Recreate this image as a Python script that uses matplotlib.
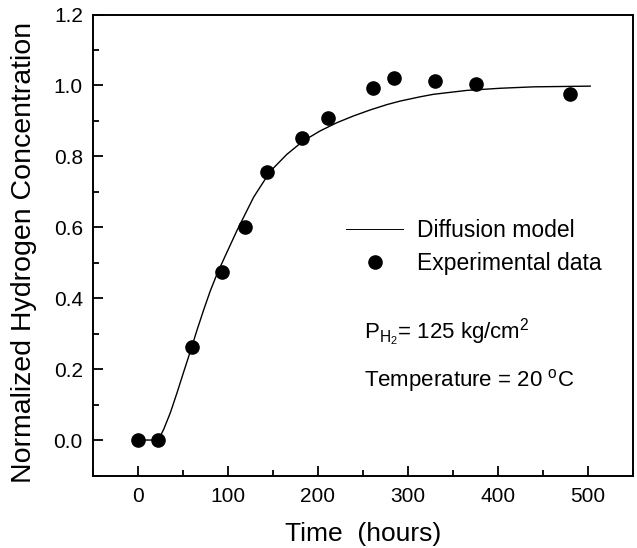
import matplotlib
matplotlib.use("Agg")
import matplotlib.pyplot as plt
from matplotlib.ticker import MultipleLocator

# Experimental data
exp_time = [0, 23, 60, 94, 119, 144, 183, 211, 261, 285, 330, 376, 480]
exp_conc = [0.0, 0.0, 0.262, 0.474, 0.600, 0.757, 0.851, 0.907, 0.993, 1.021, 1.012, 1.003, 0.975]

# Diffusion model curve
model_time = [0, 23, 29, 36.4, 43.8, 51.2, 58.6, 66, 73.4, 80.8, 88.2, 97.5, 110.4,
              128.9, 147.4, 165.9, 184.3, 202.9, 221.4, 239.8, 258.4, 276.9, 291.7,
              313.9, 328.6, 365.7, 402.7, 439.6, 502.5]
model_conc = [0.0, 0.0, 0.030, 0.077, 0.133, 0.192, 0.250, 0.310, 0.367, 0.421, 0.468,
              0.520, 0.591, 0.685, 0.758, 0.806, 0.844, 0.872, 0.895, 0.914, 0.931,
              0.946, 0.956, 0.968, 0.975, 0.986, 0.992, 0.996, 0.998]

xticks = [0, 100, 200, 300, 400, 500]
yticks = [0.0, 0.2, 0.4, 0.6, 0.8, 1.0, 1.2]

plt.rcParams['font.family'] = ['Liberation Sans', 'DejaVu Sans']
plt.rcParams['mathtext.fontset'] = 'custom'
plt.rcParams['mathtext.rm'] = 'Liberation Sans'
plt.rcParams['mathtext.it'] = 'Liberation Sans'

fig = plt.figure(figsize=(6.37, 5.48), dpi=100)
W, H = 637, 548
ax = fig.add_axes([92.5 / W, 1 - 475.5 / H, (633 - 92.5) / W, (475.5 - 14.5) / H])

ax.plot(model_time, model_conc, color='black', lw=1.0, label='Diffusion model')
ax.plot(exp_time, exp_conc, 'o', color='black', ms=9.5, label='Experimental data')

ax.set_xlim(-50, 550)
ax.set_ylim(-0.1, 1.2)
ax.set_xticks(xticks)
ax.set_yticks(yticks)
ax.set_yticklabels([f"{v:.1f}" for v in yticks])
ax.xaxis.set_minor_locator(MultipleLocator(50))
ax.yaxis.set_minor_locator(MultipleLocator(0.1))
ax.tick_params(which='both', direction='in', top=False, right=False, labelsize=15, width=1.3)
ax.tick_params(axis='x', which='major', length=7, pad=8)
ax.tick_params(axis='y', which='major', length=7, pad=7)
ax.tick_params(which='minor', length=4)
for s in ax.spines.values():
    s.set_linewidth(1.4)

ax.set_xlabel('Time  (hours)', fontsize=19, labelpad=12)
ax.set_ylabel('Normalized Hydrogen Concentration', fontsize=20.5)
ax.yaxis.set_label_coords((37 - 92.5) / 540.5, (475.5 - 252) / 461)

leg = ax.legend(loc='upper left', bbox_to_anchor=(346 / W, 1 - 219 / H),
                bbox_transform=fig.transFigure, frameon=False, fontsize=16.5,
                borderpad=0, borderaxespad=0, handlelength=2.49, handletextpad=0.6,
                labelspacing=0.42, numpoints=1)
for line in leg.get_lines():
    line.set_linewidth(0.7)

fig.text(364 / W, 1 - 333 / H, r'P$_{\mathrm{H}_{2}}$= 125 kg/cm$^{2}$', fontsize=16,
         va='center', ha='left')
fig.text(364 / W, 1 - 380 / H, r'Temperature = 20 $^{\mathrm{o}}$C', fontsize=16,
         va='center', ha='left')

fig.savefig('out.png', dpi=100)
